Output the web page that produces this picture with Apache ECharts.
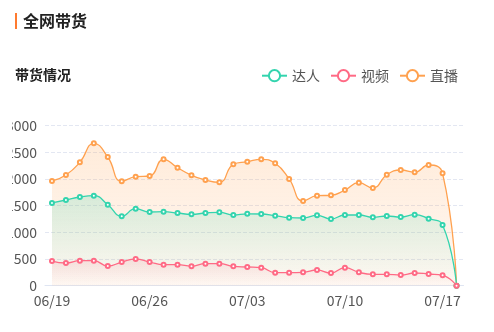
<!DOCTYPE html>
<html><head><meta charset="utf-8">
<script src="https://cdn.jsdelivr.net/npm/echarts@6/dist/echarts.min.js"></script>
<style>html,body{margin:0;padding:0;background:#fff;width:494px;height:332px;overflow:hidden}
#c{position:absolute;left:12px;top:0;width:482px;height:332px}</style>
</head><body><div id="c"></div>
<script>
const dates = ['06/19','06/20','06/21','06/22','06/23','06/24','06/25','06/26','06/27','06/28','06/29','06/30','07/01','07/02','07/03','07/04','07/05','07/06','07/07','07/08','07/09','07/10','07/11','07/12','07/13','07/14','07/15','07/16','07/17','07/18'];
const darenValues = [1551,1607,1663,1688,1519,1301,1444,1382,1388,1363,1338,1363,1376,1326,1347,1344,1313,1275,1269,1320,1251,1326,1326,1282,1307,1288,1331,1256,1138,0];
const videoValues = [463,426,469,469,369,444,500,444,394,394,364,413,413,364,351,338,244,244,251,294,238,338,251,214,214,200,238,219,195,0];
const liveValues = [1963,2076,2314,2670,2413,1957,2044,2057,2370,2212,2070,1982,1938,2276,2325,2370,2295,2001,1588,1688,1695,1794,1931,1832,2081,2169,2126,2263,2107,0];
const seriesNames = ['达人','视频','直播'];
const FONT = 'Noto Sans CJK SC';
const chart = echarts.init(document.getElementById('c'));
function grad(r,g,b,a1,a2){return new echarts.graphic.LinearGradient(0,0,0,1,[{offset:0,color:`rgba(${r},${g},${b},${a1})`},{offset:1,color:`rgba(${r},${g},${b},${a2})`}]);}
function mk(name, data, color, area){
  return {name, type:'line', data, smooth:true, symbol:'emptyCircle', symbolSize:4,
    lineStyle:{color, width:1.3}, itemStyle:{color, borderWidth:1.2}, areaStyle:{color:area}};
}
chart.setOption({
  animation:false,
  textStyle:{fontFamily:FONT},
  title:[
    {text:'全网带货', left:11, top:13, padding:0, textStyle:{fontSize:16, fontWeight:'bold', color:'#222', fontFamily:FONT}},
    {text:'带货情况', left:3, top:68, padding:0, textStyle:{fontSize:14, fontWeight:'bold', color:'#222', fontFamily:FONT}}
  ],
  graphic:[{type:'rect', left:3, top:13, shape:{width:2, height:16}, style:{fill:'#ff7a2f'}}],
  legend:{data:seriesNames, right:36, top:68.7, padding:0, itemWidth:25, itemHeight:14, itemGap:10,
    textStyle:{fontSize:14, color:'#555', fontFamily:FONT}},
  grid:{left:33, right:30.5, top:125.7, bottom:46.3, containLabel:false, outerBoundsMode:'none'},
  xAxis:{type:'category', data:dates, boundaryGap:true,
    axisLine:{lineStyle:{color:'#dfe5f2'}},
    axisTick:{interval:6, lineStyle:{color:'#dfe5f2'}},
    axisLabel:{interval:6, fontSize:14, color:'#555', fontFamily:FONT}},
  yAxis:{type:'value', min:0, max:3000, interval:500,
    axisLabel:{fontSize:14, color:'#555', fontFamily:FONT, margin:8, formatter:function(v){return String(v);}},
    splitLine:{lineStyle:{type:'dashed', color:'#e3e7f2'}}},
  series:[
    mk('直播', liveValues, '#ffa14f', grad(255,161,79,0.3,0.1)),
    mk('达人', darenValues, '#33d4ae', grad(51,212,174,0.28,0.0)),
    mk('视频', videoValues, '#ff6a85', grad(255,106,133,0.22,0.0))
  ]
});
</script></body></html>
